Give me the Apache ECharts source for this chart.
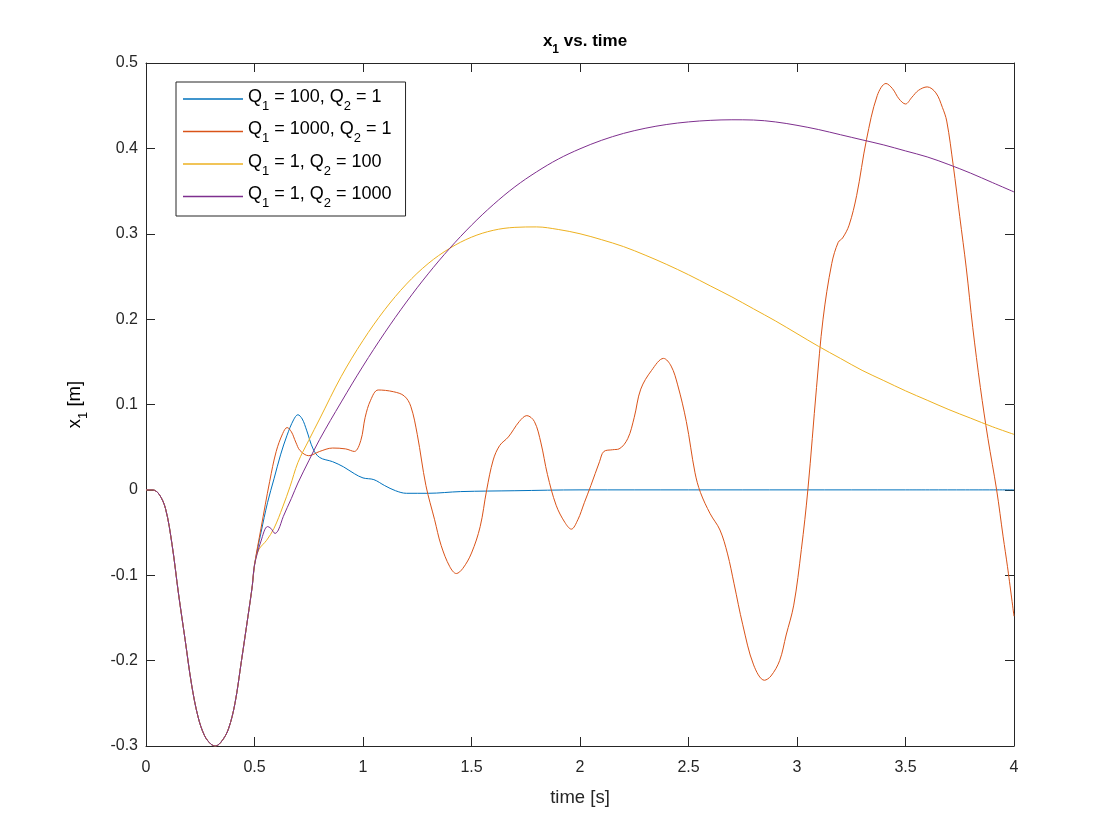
<!DOCTYPE html>
<html>
<head>
<meta charset="utf-8">
<script src="https://cdn.jsdelivr.net/npm/echarts@6/dist/echarts.min.js"></script>
<style>
  html, body { margin: 0; padding: 0; background: #fff; }
  #chart { width: 1120px; height: 840px; }
</style>
</head>
<body>
<div id="chart"></div>
<script>
// shared start, all four runs are identical until t = 0.5
var startT = [0, 0.03, 0.06, 0.09, 0.12, 0.15, 0.18, 0.21, 0.24, 0.27, 0.30, 0.32, 0.35, 0.38, 0.41, 0.44, 0.47, 0.49, 0.50];
var startV = [0, 0, -0.005, -0.022, -0.064, -0.122, -0.175, -0.228, -0.266, -0.288, -0.298, -0.300, -0.294, -0.280, -0.250, -0.200, -0.148, -0.112, -0.088];

// Q1 = 100, Q2 = 1
var blueT = [0.53, 0.56, 0.59, 0.62, 0.65, 0.68, 0.70, 0.72, 0.74, 0.77, 0.80, 0.86, 0.91, 0.96, 1.00, 1.05, 1.10, 1.15, 1.20, 1.30, 1.45, 1.70, 2.00, 2.50, 3.00, 3.50, 4.00];
var blueV = [-0.050, -0.015, 0.013, 0.041, 0.064, 0.082, 0.088, 0.083, 0.070, 0.048, 0.038, 0.033, 0.027, 0.019, 0.014, 0.012, 0.005, -0.001, -0.004, -0.004, -0.002, -0.001, 0, 0, 0, 0, 0];

// Q1 = 1000, Q2 = 1
var orangeT = [0.53, 0.57, 0.60, 0.63, 0.65, 0.67, 0.69, 0.71, 0.75, 0.80, 0.86, 0.92, 0.96, 0.99, 1.01, 1.035, 1.07, 1.14, 1.19, 1.22, 1.25, 1.29, 1.33, 1.36, 1.40, 1.43, 1.46, 1.50, 1.54, 1.57, 1.60, 1.63, 1.67, 1.72, 1.755, 1.79, 1.82, 1.85, 1.89, 1.93, 1.96, 1.99, 2.02, 2.05, 2.09, 2.11, 2.15, 2.18, 2.22, 2.25, 2.28, 2.33, 2.385, 2.42, 2.45, 2.49, 2.53, 2.555, 2.60, 2.645, 2.68, 2.71, 2.75, 2.80, 2.85, 2.88, 2.92, 2.95, 2.985, 3.02, 3.05, 3.09, 3.12, 3.16, 3.19, 3.21, 3.24, 3.275, 3.32, 3.37, 3.41, 3.44, 3.47, 3.50, 3.53, 3.56, 3.60, 3.64, 3.67, 3.69, 3.72, 3.75, 3.78, 3.81, 3.845, 3.88, 3.92, 3.95, 3.97, 4.00];
var orangeV = [-0.045, 0.010, 0.045, 0.066, 0.073, 0.068, 0.056, 0.046, 0.040, 0.045, 0.049, 0.048, 0.045, 0.058, 0.085, 0.105, 0.117, 0.115, 0.110, 0.098, 0.065, 0.005, -0.035, -0.065, -0.090, -0.098, -0.092, -0.074, -0.043, 0, 0.035, 0.052, 0.062, 0.080, 0.087, 0.080, 0.055, 0.018, -0.018, -0.038, -0.046, -0.035, -0.015, 0.005, 0.033, 0.045, 0.047, 0.048, 0.060, 0.085, 0.118, 0.140, 0.154, 0.145, 0.123, 0.080, 0.020, -0.003, -0.028, -0.047, -0.075, -0.110, -0.158, -0.205, -0.223, -0.218, -0.200, -0.170, -0.135, -0.070, 0, 0.120, 0.200, 0.265, 0.290, 0.295, 0.310, 0.345, 0.410, 0.462, 0.476, 0.470, 0.458, 0.452, 0.460, 0.468, 0.472, 0.465, 0.448, 0.432, 0.380, 0.320, 0.260, 0.190, 0.120, 0.060, 0, -0.055, -0.090, -0.148];

// Q1 = 1, Q2 = 100
var yellowT = [0.52, 0.556, 0.59, 0.63, 0.664, 0.70, 0.75, 0.80, 0.90, 1.0, 1.1, 1.2, 1.3, 1.4, 1.5, 1.6, 1.7, 1.8, 1.9, 2.0, 2.1, 2.2, 2.3, 2.4, 2.5, 2.6, 2.7, 2.8, 2.9, 3.0, 3.1, 3.2, 3.3, 3.4, 3.5, 3.6, 3.7, 3.8, 3.9, 4.0];
var yellowV = [-0.070, -0.059, -0.045, -0.020, 0.004, 0.032, 0.058, 0.083, 0.133, 0.175, 0.211, 0.241, 0.265, 0.283, 0.296, 0.304, 0.3075, 0.308, 0.305, 0.300, 0.293, 0.285, 0.275, 0.264, 0.252, 0.239, 0.226, 0.212, 0.198, 0.183, 0.168, 0.154, 0.140, 0.128, 0.116, 0.105, 0.094, 0.084, 0.074, 0.065];

// Q1 = 1, Q2 = 1000
var purpleT = [0.53, 0.56, 0.575, 0.595, 0.61, 0.633, 0.67, 0.70, 0.75, 0.80, 0.90, 1.0, 1.1, 1.2, 1.3, 1.4, 1.5, 1.6, 1.7, 1.8, 1.9, 2.0, 2.1, 2.2, 2.3, 2.4, 2.5, 2.6, 2.7, 2.8, 2.9, 3.0, 3.1, 3.2, 3.3, 3.4, 3.5, 3.6, 3.7, 3.8, 3.9, 4.0];
var purpleV = [-0.060, -0.043, -0.045, -0.051, -0.047, -0.031, -0.010, 0.008, 0.034, 0.059, 0.103, 0.145, 0.184, 0.220, 0.253, 0.283, 0.310, 0.334, 0.355, 0.3725, 0.3875, 0.3995, 0.4095, 0.4175, 0.4235, 0.428, 0.431, 0.4328, 0.4335, 0.4332, 0.431, 0.427, 0.422, 0.416, 0.410, 0.404, 0.397, 0.390, 0.381, 0.371, 0.360, 0.349];

var names = ['Q1 = 100, Q2 = 1', 'Q1 = 1000, Q2 = 1', 'Q1 = 1, Q2 = 100', 'Q1 = 1, Q2 = 1000'];
var colors = ['#0072BD', '#D95319', '#EDB120', '#7E2F8E'];

var xTicks = { min: 0, max: 4, interval: 0.5 };
var yTicks = { min: -0.3, max: 0.5, interval: 0.1 };

function pairs(t, v) {
    var out = [];
    var tt = startT.concat(t), vv = startV.concat(v);
    for (var i = 0; i < tt.length; i++) out.push([tt[i], vv[i]]);
    return out;
}

// "Q1 = 100" -> rich text with subscripts
function subText(s) {
    return '{a|' + s.replace(/([Qx])(\d)/g, '$1}{s|$2}{a|') + '}';
}

var axisColor = '#262626';
var font = '"Liberation Sans", Arial, Helvetica, sans-serif';

// padding on the tokens moves the main text up a bit and the subscript down
function rich(size, bold) {
    var w = bold ? 'bold' : 'normal';
    return {
        a: { fontSize: size, fontFamily: font, color: '#000', fontWeight: w, padding: [0, 0, 4, 0] },
        s: { fontSize: Math.round(size * 0.72), fontFamily: font, color: '#000', fontWeight: w, padding: [14, 0, 0, 0] }
    };
}

var myChart = echarts.init(document.getElementById('chart'), null, { renderer: 'canvas' });

var seriesData = [pairs(blueT, blueV), pairs(orangeT, orangeV), pairs(yellowT, yellowV), pairs(purpleT, purpleV)];
var series = [];
for (var i = 0; i < 4; i++) {
    series.push({
        name: names[i],
        type: 'line',
        data: seriesData[i],
        showSymbol: false,
        smooth: 0.35,
        lineStyle: { width: 1, color: colors[i] },
        itemStyle: { color: colors[i] },
        z: 2 + i,
        animation: false
    });
}

function baseAxis(extra) {
    var ax = {
        type: 'value',
        axisLine: { show: true, onZero: false, lineStyle: { color: axisColor, width: 1 } },
        axisTick: { show: true, inside: true, length: 9, lineStyle: { color: axisColor } },
        splitLine: { show: false },
        axisLabel: { color: axisColor, fontSize: 16, fontFamily: font }
    };
    for (var k in extra) ax[k] = extra[k];
    return ax;
}

var option = {
    backgroundColor: '#fff',
    animation: false,
    title: {
        text: subText('x1 vs. time'),
        left: 580,
        top: 25,
        textAlign: 'center',
        textStyle: { rich: rich(17, true) }
    },
    legend: {
        orient: 'vertical',
        left: 176,
        top: 82,
        data: names,
        icon: 'rect',
        itemWidth: 60,
        itemHeight: 1.5,
        itemGap: 8,
        padding: [6, 14, 6, 7],
        backgroundColor: '#fff',
        borderColor: axisColor,
        borderWidth: 1,
        borderRadius: 0,
        formatter: function (n) { return subText(n); },
        textStyle: { rich: rich(18, false) }
    },
    grid: { left: 146, right: 106, top: 63, bottom: 94, containLabel: false },
    xAxis: [
        baseAxis({
            min: xTicks.min, max: xTicks.max, interval: xTicks.interval,
            name: 'time [s]', nameLocation: 'middle', nameGap: 42,
            nameTextStyle: { fontSize: 18.5, fontFamily: font, color: axisColor },
            axisLabel: { color: axisColor, fontSize: 16, fontFamily: font, margin: 14 }
        }),
        baseAxis({
            position: 'top', min: xTicks.min, max: xTicks.max, interval: xTicks.interval,
            axisLabel: { show: false }
        })
    ],
    yAxis: [
        baseAxis({
            min: yTicks.min, max: yTicks.max, interval: yTicks.interval,
            name: subText('x1 [m]'), nameLocation: 'middle', nameGap: 56,
            nameTextStyle: { rich: rich(18.5, false) },
            axisLabel: { color: axisColor, fontSize: 16, fontFamily: font, margin: 8 }
        }),
        baseAxis({
            position: 'right', min: yTicks.min, max: yTicks.max, interval: yTicks.interval,
            axisLabel: { show: false }
        })
    ],
    series: series
};

myChart.setOption(option);
</script>
</body>
</html>
